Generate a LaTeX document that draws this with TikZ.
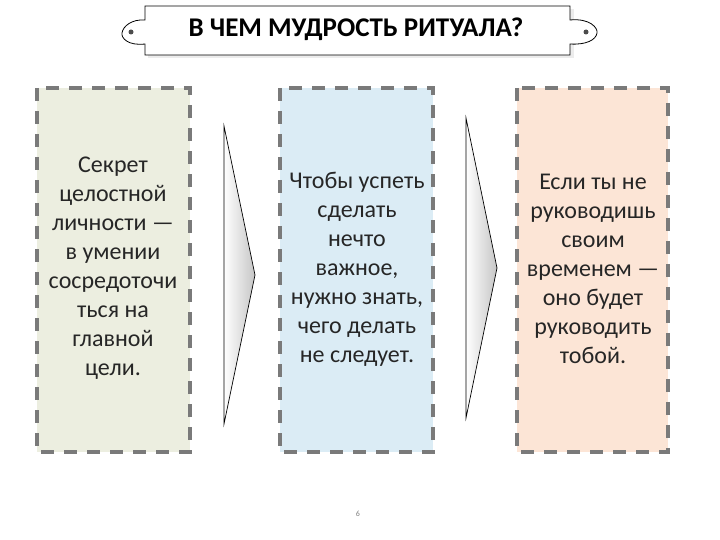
\documentclass[tikz,border=0pt]{standalone}
\usepackage{fontspec}
\setmainfont{Carlito}
\usetikzlibrary{shadings}
\begin{document}
\begin{tikzpicture}[x=1pt,y=-1pt,
  card/.style={draw=gray!70!black!80,line width=4.5pt,dash pattern=on 13pt off 10pt},
  txt/.style={align=center,font=\fontsize{24}{29}\selectfont,text=black!85},
  arr/.style={draw=black,line width=0.7pt,left color=white,right color=gray!45}]
\useasboundingbox (0,0) rectangle (720,540);
% banner
\fill[gray!15] (148,9) rectangle (574,58);
\draw[line width=0.8pt,fill=white] (145,6) -- (570,6) -- (570,20) .. controls (590,18) and (598,28) .. (597,33)
  .. controls (596,40) and (586,45) .. (570,44) -- (570,55) -- (145,55) -- (145,44)
  .. controls (128,46) and (121,38) .. (122,33) .. controls (123,26) and (132,19) .. (145,20) -- cycle;
\fill[black!70] (131,32) circle (2.5);
\fill[black!70] (586,32) circle (2.5);
\node[font=\bfseries\fontsize{27}{30}\selectfont] (title) at (356,29) {В ЧЕМ МУДРОСТЬ РИТУАЛА?};
% cards
\definecolor{cA}{RGB}{236,238,224}
\definecolor{cB}{RGB}{219,236,245}
\definecolor{cC}{RGB}{252,229,214}
\fill[cA] (37,88) rectangle (190,452);
\fill[cB] (280,88) rectangle (433,452);
\fill[cC] (517,88) rectangle (668,452);
\draw[card] (37,88) rectangle (190,452);
\draw[card] (280,88) rectangle (433,452);
\draw[card] (517,88) rectangle (668,452);
\node[txt] (a) at (113,268) {Секрет\\целостной\\личности —\\в умении\\сосредоточи\\ться на\\главной\\цели.};
\node[txt] (b) at (357,269) {Чтобы успеть\\сделать\\нечто\\важное,\\нужно знать,\\чего делать\\не следует.};
\node[txt] (c) at (593,269) {Если ты не\\руководишь\\своим\\временем —\\оно будет\\руководить\\тобой.};
% arrows
\path[arr] (224,126) -- (255,275) -- (224,424) -- cycle;
\path[arr] (466,118) -- (497,268) -- (466,418) -- cycle;
\node[font=\fontsize{8}{9}\selectfont,text=gray] (pg) at (358,514) {6};
\end{tikzpicture}
\end{document}
